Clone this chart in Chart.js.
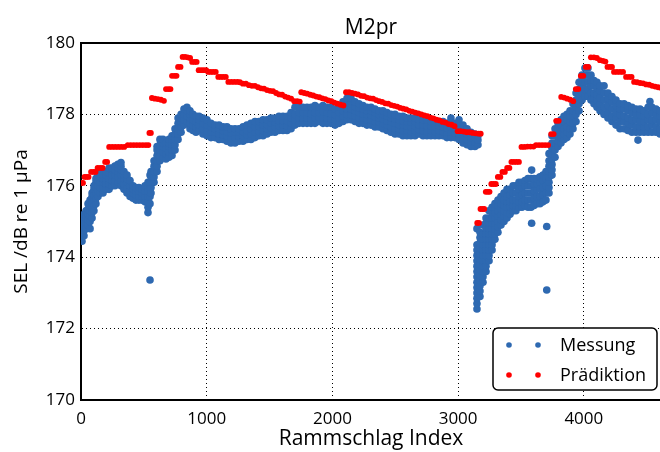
<!DOCTYPE html>
<html lang="de">
<head>
    <meta charset="UTF-8">
    <title>M2pr</title>
    <script src="https://cdn.jsdelivr.net/npm/chart.js"></script>
    <style>
        html, body {
            margin: 0;
            padding: 0;
            background: #fff;
            overflow: hidden;
        }
        .wrap {
            width: 680px;
            height: 452px;
        }
    </style>
</head>
<body>
    <div class="wrap">
        <canvas id="chart" width="680" height="452"></canvas>
    </div>

    <script>
        // Messung: [Rammschlag Index, [SEL-Werte in dB]]
        const messung = [
            [8, [174.45, 174.6, 174.75, 174.9]],
            [24, [174.6, 174.75, 174.9, 175.05, 175.2]],
            [40, [174.8, 174.95, 175.1, 175.3]],
            [56, [174.9, 175.05, 175.2, 175.35, 175.5]],
            [72, [174.8, 175.0, 175.15, 175.3, 175.45, 175.6]],
            [88, [175.1, 175.25, 175.4, 175.55, 175.7, 175.8]],
            [103, [175.3, 175.45, 175.6, 175.75, 175.9, 176.0]],
            [119, [175.5, 175.65, 175.8, 175.95, 176.1, 176.2]],
            [135, [175.7, 175.85, 176.0, 176.15, 176.3]],
            [151, [175.8, 175.95, 176.1, 176.25, 176.4]],
            [175, [175.8, 175.95, 176.1, 176.2, 176.3]],
            [199, [175.9, 176.05, 176.2, 176.3, 176.4]],
            [223, [175.9, 176.05, 176.2, 176.35, 176.5]],
            [247, [176.0, 176.15, 176.3, 176.45, 176.5]],
            [270, [176.0, 176.15, 176.3, 176.45, 176.55]],
            [294, [176.1, 176.25, 176.4, 176.5, 176.6]],
            [318, [176.0, 176.15, 176.3, 176.45, 176.55, 176.65]],
            [342, [175.9, 176.05, 176.2, 176.3, 176.4]],
            [366, [175.8, 175.95, 176.1, 176.2, 176.3]],
            [390, [175.7, 175.85, 176.0, 176.15]],
            [414, [175.65, 175.8, 175.9, 176.0]],
            [437, [175.6, 175.75, 175.85, 175.95]],
            [461, [175.6, 175.7, 175.85, 175.95]],
            [485, [175.6, 175.7, 175.8, 175.9]],
            [509, [175.55, 175.7, 175.85, 176.0]],
            [533, [175.25, 175.4, 175.55, 175.7, 175.85, 176.0, 176.1]],
            [549, [173.36, 175.5, 175.7, 175.9, 176.1, 176.3]],
            [557, [175.8, 175.95, 176.1, 176.25, 176.4]],
            [581, [176.1, 176.25, 176.4, 176.55, 176.7]],
            [605, [176.4, 176.55, 176.7, 176.85, 177.0, 177.1]],
            [628, [176.7, 176.85, 177.0, 177.15, 177.3]],
            [652, [176.8, 176.95, 177.1, 177.2, 177.3]],
            [676, [176.75, 176.9, 177.05, 177.2]],
            [700, [176.8, 176.95, 177.1, 177.2, 177.3]],
            [724, [176.85, 177.0, 177.15, 177.3, 177.4]],
            [748, [177.0, 177.15, 177.3, 177.45, 177.6]],
            [772, [177.3, 177.45, 177.6, 177.75, 177.9]],
            [796, [177.5, 177.65, 177.8, 177.9, 178.0]],
            [819, [177.7, 177.85, 178.0, 178.15]],
            [843, [177.8, 177.95, 178.1, 178.2]],
            [867, [177.6, 177.75, 177.9, 178.0, 178.1]],
            [891, [177.55, 177.7, 177.85, 178.0]],
            [915, [177.5, 177.65, 177.8, 177.95]],
            [939, [177.55, 177.7, 177.85, 177.95]],
            [970, [177.45, 177.6, 177.75, 177.9]],
            [1002, [177.4, 177.55, 177.7, 177.85]],
            [1034, [177.35, 177.5, 177.65, 177.75]],
            [1066, [177.35, 177.5, 177.6, 177.7]],
            [1098, [177.3, 177.45, 177.6, 177.7]],
            [1130, [177.3, 177.42, 177.55, 177.65]],
            [1161, [177.25, 177.4, 177.52, 177.65]],
            [1193, [177.2, 177.35, 177.48, 177.6]],
            [1225, [177.2, 177.35, 177.5, 177.6]],
            [1257, [177.25, 177.38, 177.5, 177.6]],
            [1289, [177.25, 177.4, 177.52, 177.65]],
            [1320, [177.3, 177.42, 177.55, 177.7]],
            [1352, [177.3, 177.45, 177.6, 177.75]],
            [1384, [177.35, 177.5, 177.65, 177.8]],
            [1416, [177.4, 177.52, 177.66, 177.8]],
            [1448, [177.4, 177.55, 177.7, 177.85]],
            [1480, [177.45, 177.6, 177.72, 177.85]],
            [1511, [177.5, 177.62, 177.76, 177.9]],
            [1543, [177.5, 177.65, 177.78, 177.9]],
            [1575, [177.55, 177.68, 177.82, 177.95]],
            [1607, [177.55, 177.7, 177.82, 177.95]],
            [1639, [177.55, 177.68, 177.82, 177.95]],
            [1671, [177.6, 177.75, 177.9, 178.05]],
            [1702, [177.7, 177.85, 178.0, 178.2]],
            [1734, [177.75, 177.9, 178.05, 178.25]],
            [1766, [177.75, 177.9, 178.05, 178.2]],
            [1798, [177.75, 177.9, 178.05, 178.2]],
            [1830, [177.75, 177.88, 178.02, 178.2]],
            [1861, [177.75, 177.9, 178.05, 178.25]],
            [1893, [177.8, 177.92, 178.05, 178.2]],
            [1925, [177.75, 177.9, 178.08, 178.25]],
            [1957, [177.75, 177.9, 178.05, 178.2]],
            [1989, [177.75, 177.88, 178.02, 178.2]],
            [2021, [177.7, 177.85, 178.0, 178.15]],
            [2052, [177.75, 177.9, 178.05, 178.2]],
            [2084, [177.8, 177.95, 178.1, 178.25, 178.35]],
            [2116, [177.85, 178.0, 178.15, 178.3, 178.45]],
            [2148, [177.85, 178.0, 178.15, 178.3, 178.45]],
            [2180, [177.8, 177.95, 178.1, 178.22, 178.35]],
            [2212, [177.75, 177.9, 178.05, 178.18, 178.3]],
            [2243, [177.75, 177.9, 178.02, 178.15, 178.25]],
            [2275, [177.7, 177.85, 178.0, 178.1, 178.2]],
            [2307, [177.7, 177.85, 177.98, 178.1, 178.2]],
            [2339, [177.65, 177.8, 177.92, 178.05, 178.15]],
            [2371, [177.65, 177.78, 177.9, 178.0, 178.1]],
            [2402, [177.6, 177.75, 177.88, 178.0, 178.1]],
            [2434, [177.55, 177.7, 177.82, 177.95, 178.05]],
            [2466, [177.5, 177.65, 177.8, 177.9, 178.0]],
            [2498, [177.45, 177.6, 177.75, 177.88, 178.0]],
            [2530, [177.45, 177.6, 177.72, 177.85, 177.95]],
            [2561, [177.4, 177.55, 177.7, 177.82, 177.95]],
            [2593, [177.4, 177.55, 177.68, 177.8, 177.9]],
            [2625, [177.4, 177.52, 177.65, 177.78, 177.9]],
            [2657, [177.4, 177.55, 177.68, 177.8, 177.9]],
            [2689, [177.45, 177.58, 177.7, 177.85]],
            [2721, [177.4, 177.55, 177.7, 177.85]],
            [2752, [177.4, 177.52, 177.68, 177.85]],
            [2784, [177.4, 177.55, 177.68, 177.8]],
            [2816, [177.4, 177.52, 177.66, 177.8]],
            [2848, [177.4, 177.55, 177.68, 177.8]],
            [2880, [177.4, 177.52, 177.65, 177.8]],
            [2911, [177.35, 177.5, 177.62, 177.75]],
            [2943, [177.35, 177.5, 177.65, 177.8, 177.9]],
            [2975, [177.35, 177.48, 177.62, 177.75]],
            [3007, [177.3, 177.45, 177.6, 177.72, 177.85]],
            [3039, [177.2, 177.35, 177.5, 177.6, 177.7]],
            [3071, [177.15, 177.3, 177.45, 177.6]],
            [3102, [177.1, 177.22, 177.35, 177.5]],
            [3134, [177.1, 177.22, 177.35, 177.45]],
            [3158, [177.15, 177.28, 177.4]],
            [3150, [172.55, 172.7, 172.85, 173.0, 173.15, 173.3, 173.45, 173.6, 173.75, 173.9, 174.05, 174.2, 174.35, 174.8]],
            [3174, [172.9, 173.05, 173.2, 173.35, 173.5, 173.65, 173.8, 173.95, 174.1, 174.25, 174.4, 174.55, 174.7]],
            [3198, [173.3, 173.45, 173.6, 173.75, 173.9, 174.05, 174.2, 174.35, 174.5, 174.65, 174.9]],
            [3222, [173.6, 173.75, 173.9, 174.05, 174.2, 174.35, 174.5, 174.65, 174.8, 174.95, 175.1]],
            [3246, [173.9, 174.05, 174.2, 174.35, 174.5, 174.65, 174.8, 174.95, 175.1, 175.3]],
            [3270, [174.2, 174.35, 174.5, 174.65, 174.8, 174.95, 175.1, 175.25, 175.4]],
            [3293, [174.5, 174.65, 174.8, 174.95, 175.1, 175.25, 175.4, 175.5]],
            [3317, [174.7, 174.85, 175.0, 175.15, 175.3, 175.45, 175.6]],
            [3341, [174.9, 175.05, 175.2, 175.35, 175.5, 175.7]],
            [3365, [175.0, 175.15, 175.3, 175.45, 175.6, 175.8]],
            [3389, [175.1, 175.25, 175.4, 175.55, 175.7, 175.9]],
            [3413, [175.2, 175.4, 175.55, 175.75, 175.9]],
            [3437, [175.3, 175.45, 175.6, 175.8, 176.0]],
            [3460, [175.3, 175.45, 175.6, 175.8, 176.0]],
            [3484, [175.4, 175.55, 175.7, 175.9, 176.1]],
            [3508, [175.4, 175.55, 175.75, 175.95, 176.1]],
            [3532, [175.45, 175.6, 175.8, 176.0, 176.15]],
            [3556, [175.4, 175.6, 175.8, 176.0, 176.2]],
            [3580, [175.4, 175.6, 175.8, 176.0, 176.2]],
            [3585, [174.95, 176.44]],
            [3604, [175.45, 175.65, 175.85, 176.05, 176.2]],
            [3627, [175.5, 175.7, 175.9, 176.05, 176.2]],
            [3651, [175.5, 175.7, 175.9, 176.1, 176.25]],
            [3675, [175.55, 175.75, 175.95, 176.15, 176.3]],
            [3699, [175.6, 175.8, 176.0, 176.2, 176.4]],
            [3705, [173.08, 174.86]],
            [3723, [175.8, 175.95, 176.1, 176.25, 176.4, 176.55, 176.7, 176.9]],
            [3747, [176.3, 176.45, 176.6, 176.75, 176.9, 177.05, 177.2, 177.4]],
            [3771, [176.8, 177.0, 177.2, 177.4, 177.6]],
            [3795, [177.1, 177.25, 177.45, 177.6, 177.75]],
            [3818, [177.2, 177.35, 177.5, 177.7, 177.85]],
            [3842, [177.3, 177.45, 177.6, 177.8, 177.95]],
            [3866, [177.35, 177.5, 177.65, 177.85, 178.0]],
            [3890, [177.45, 177.6, 177.8, 177.95, 178.1]],
            [3914, [177.6, 177.75, 177.95, 178.1, 178.3]],
            [3938, [177.8, 178.0, 178.2, 178.4, 178.6]],
            [3962, [178.1, 178.3, 178.5, 178.7, 178.9]],
            [3986, [178.4, 178.6, 178.8, 179.0, 179.1]],
            [4009, [178.5, 178.7, 178.9, 179.1, 179.3]],
            [4033, [178.5, 178.7, 178.9, 179.1, 179.3]],
            [4057, [178.4, 178.6, 178.8, 178.95, 179.1]],
            [4081, [178.3, 178.45, 178.6, 178.8, 178.95]],
            [4105, [178.2, 178.4, 178.55, 178.75, 178.9]],
            [4129, [178.1, 178.3, 178.45, 178.65, 178.8]],
            [4161, [178.0, 178.2, 178.4, 178.6, 178.8]],
            [4192, [177.9, 178.05, 178.25, 178.45, 178.6]],
            [4224, [177.8, 177.95, 178.15, 178.35, 178.5]],
            [4256, [177.7, 177.9, 178.05, 178.25, 178.4]],
            [4288, [177.6, 177.8, 178.0, 178.15, 178.3]],
            [4320, [177.6, 177.8, 177.95, 178.15, 178.3]],
            [4351, [177.55, 177.75, 177.9, 178.1, 178.25]],
            [4383, [177.5, 177.7, 177.85, 178.05, 178.2]],
            [4415, [177.5, 177.65, 177.85, 178.0, 178.15]],
            [4431, [177.28]],
            [4447, [177.5, 177.65, 177.8, 178.0, 178.15]],
            [4479, [177.5, 177.65, 177.8, 177.95, 178.1]],
            [4511, [177.5, 177.65, 177.85, 178.0, 178.2]],
            [4526, [178.36]],
            [4542, [177.5, 177.7, 177.85, 178.05, 178.2]],
            [4574, [177.5, 177.65, 177.85, 178.0, 178.15]],
            [4606, [177.45, 177.6, 177.8, 177.95, 178.1]]
        ];

        // Prädiktion: [Rammschlag Index, SEL in dB]
        const praediktion = [
            [0, 176.08], [16, 176.08],
            [28, 176.25], [44, 176.25], [60, 176.25],
            [80, 176.39], [100, 176.39], [116, 176.39],
            [132, 176.5], [152, 176.5], [172, 176.5],
            [192, 176.67], [208, 176.67],
            [224, 177.09], [248, 177.09], [272, 177.09], [296, 177.09], [320, 177.09], [344, 177.09],
            [372, 177.14], [396, 177.14], [420, 177.14], [444, 177.14], [468, 177.14], [492, 177.14], [516, 177.14], [536, 177.14],
            [544, 177.48], [556, 177.48],
            [564, 178.46], [588, 178.44], [612, 178.43], [636, 178.41], [660, 178.38],
            [676, 178.71], [696, 178.71], [712, 178.71],
            [724, 179.08], [744, 179.08], [760, 179.08],
            [772, 179.33], [792, 179.33],
            [808, 179.61], [828, 179.61], [848, 179.6], [868, 179.58],
            [884, 179.47], [904, 179.47], [920, 179.47],
            [936, 179.24], [956, 179.24], [976, 179.24], [996, 179.24],
            [1012, 179.19], [1032, 179.19], [1052, 179.19], [1072, 179.19],
            [1092, 179.05], [1112, 179.05], [1132, 179.05], [1152, 179.05],
            [1172, 178.91], [1196, 178.91], [1220, 178.91], [1244, 178.91], [1264, 178.9],
            [1288, 178.86], [1312, 178.86], [1336, 178.82], [1360, 178.8], [1384, 178.8], [1408, 178.76],
            [1432, 178.73], [1456, 178.72], [1480, 178.68], [1504, 178.66], [1528, 178.65], [1552, 178.6],
            [1576, 178.56], [1600, 178.55], [1624, 178.5], [1648, 178.47], [1672, 178.44],
            [1696, 178.37], [1720, 178.37], [1740, 178.36],
            [1752, 178.62], [1776, 178.6], [1800, 178.58], [1824, 178.55], [1848, 178.53], [1872, 178.5],
            [1896, 178.48], [1920, 178.45], [1944, 178.43], [1968, 178.39], [1992, 178.37], [2016, 178.33],
            [2040, 178.3], [2064, 178.27], [2088, 178.25],
            [2108, 178.62], [2132, 178.62], [2156, 178.6], [2180, 178.58], [2204, 178.56],
            [2228, 178.52], [2252, 178.51], [2276, 178.47], [2300, 178.45], [2324, 178.44], [2348, 178.4],
            [2372, 178.37], [2396, 178.35], [2420, 178.31], [2444, 178.3], [2468, 178.26], [2492, 178.24],
            [2516, 178.22], [2540, 178.18], [2564, 178.16], [2588, 178.14], [2612, 178.1], [2636, 178.08],
            [2660, 178.05], [2684, 178.03], [2708, 178.0], [2732, 177.97], [2756, 177.95], [2780, 177.91],
            [2804, 177.89], [2828, 177.85], [2852, 177.83], [2876, 177.79], [2900, 177.77], [2924, 177.73],
            [2948, 177.71], [2972, 177.67],
            [2996, 177.53], [3020, 177.53], [3044, 177.52], [3068, 177.5], [3092, 177.5], [3116, 177.48],
            [3140, 177.47], [3164, 177.46], [3180, 177.46],
            [3152, 174.96], [3166, 174.96],
            [3178, 175.35], [3194, 175.35], [3208, 175.35],
            [3220, 175.83], [3236, 175.83], [3250, 175.83],
            [3264, 176.05], [3282, 176.05], [3300, 176.05],
            [3316, 176.25], [3336, 176.25],
            [3352, 176.39], [3372, 176.39],
            [3390, 176.5], [3408, 176.5],
            [3424, 176.67], [3444, 176.67], [3464, 176.67], [3484, 176.67],
            [3504, 177.09], [3528, 177.09], [3552, 177.1], [3576, 177.1], [3600, 177.1],
            [3620, 177.14], [3644, 177.14], [3668, 177.14], [3692, 177.14], [3716, 177.14],
            [3740, 177.45], [3760, 177.45],
            [3780, 177.82], [3800, 177.82],
            [3820, 178.49], [3844, 178.47], [3868, 178.44], [3892, 178.41], [3916, 178.37],
            [3936, 178.71], [3956, 178.71],
            [3976, 179.08], [3996, 179.08],
            [4016, 179.33], [4036, 179.33],
            [4056, 179.6], [4080, 179.6], [4104, 179.58], [4128, 179.52], [4152, 179.5], [4172, 179.48],
            [4188, 179.33], [4208, 179.33], [4224, 179.33],
            [4240, 179.19], [4264, 179.19], [4288, 179.19], [4312, 179.19],
            [4336, 179.05], [4360, 179.05], [4380, 179.05],
            [4400, 178.91], [4424, 178.9], [4448, 178.88], [4472, 178.87], [4496, 178.84], [4520, 178.83],
            [4544, 178.8], [4568, 178.78], [4592, 178.76], [4616, 178.74]
        ];

        const xTicks = [0, 1000, 2000, 3000, 4000];
        const yTicks = [170, 172, 174, 176, 178, 180];

        const FONT = "'Open Sans', 'DejaVu Sans', sans-serif";
        const BLUE = '#2e69b1';
        const RED = '#ff0000';

        const messungPunkte = [];
        messung.forEach(([x, ys]) => ys.forEach(y => messungPunkte.push({ x: x, y: y })));
        const praedPunkte = praediktion.map(([x, y]) => ({ x: x, y: y }));

        // legend drawn inside the plot, lower right, two markers per entry like the original
        const legendBox = {
            id: 'legendBox',
            afterDraw(chart) {
                const ctx = chart.ctx;
                const x = 493, y = 328, w = 164, h = 62, r = 5;
                ctx.save();
                ctx.beginPath();
                ctx.roundRect(x, y, w, h, r);
                ctx.fillStyle = '#fff';
                ctx.fill();
                ctx.lineWidth = 1.5;
                ctx.strokeStyle = '#000';
                ctx.stroke();
                const rows = [
                    { ds: chart.data.datasets[0], cy: 345 },
                    { ds: chart.data.datasets[1], cy: 375 }
                ];
                ctx.font = '18px ' + FONT;
                ctx.textBaseline = 'middle';
                rows.forEach(row => {
                    ctx.fillStyle = row.ds.backgroundColor;
                    [509, 538].forEach(cx => {
                        ctx.beginPath();
                        ctx.arc(cx, row.cy, 2.8, 0, Math.PI * 2);
                        ctx.fill();
                    });
                    ctx.fillStyle = '#000';
                    ctx.fillText(row.ds.label, 560, row.cy + 1);
                });
                ctx.restore();
            }
        };

        new Chart(document.getElementById('chart'), {
            type: 'scatter',
            data: {
                datasets: [
                    {
                        label: 'Messung',
                        data: messungPunkte,
                        backgroundColor: BLUE,
                        borderWidth: 0,
                        pointRadius: 3.8,
                        order: 2
                    },
                    {
                        label: 'Prädiktion',
                        data: praedPunkte,
                        backgroundColor: RED,
                        borderWidth: 0,
                        pointRadius: 2.9,
                        order: 1
                    }
                ]
            },
            options: {
                responsive: false,
                animation: false,
                layout: { padding: { left: 0, right: 19, top: 0, bottom: 0 } },
                plugins: {
                    legend: { display: false },
                    tooltip: { enabled: false },
                    title: { display: false }
                },
                scales: {
                    x: {
                        type: 'linear',
                        position: 'bottom',
                        min: 0,
                        max: 4614,
                        afterBuildTicks: s => { s.ticks = xTicks.map(v => ({ value: v })); },
                        afterFit: s => { s.height = 52; },
                        ticks: {
                            color: '#000',
                            font: { family: FONT, size: 17 },
                            padding: 9,
                            maxRotation: 0,
                            callback: v => String(v)
                        },
                        grid: { color: '#000', lineWidth: 1, drawTicks: false },
                        border: { display: true, color: '#000', width: 2, dash: [1, 3] },
                        title: {
                            display: true,
                            text: 'Rammschlag Index',
                            color: '#000',
                            font: { family: FONT, size: 21 },
                            padding: { top: 0, bottom: 0 }
                        }
                    },
                    x2: {
                        type: 'linear',
                        position: 'top',
                        min: 0,
                        max: 4614,
                        afterFit: s => { s.height = 43; },
                        ticks: { display: false },
                        grid: { display: false },
                        border: { display: true, color: '#000', width: 2 },
                        title: {
                            display: true,
                            text: 'M2pr',
                            color: '#000',
                            font: { family: FONT, size: 21 },
                            padding: { top: 15, bottom: 0 }
                        }
                    },
                    y: {
                        type: 'linear',
                        min: 170,
                        max: 180,
                        afterBuildTicks: s => { s.ticks = yTicks.map(v => ({ value: v })); },
                        afterFit: s => { s.width = 81; },
                        ticks: {
                            color: '#000',
                            font: { family: FONT, size: 17 },
                            padding: 6,
                            callback: v => String(v)
                        },
                        grid: { color: '#000', lineWidth: 1, drawTicks: false },
                        border: { display: true, color: '#000', width: 2, dash: [1, 3] },
                        title: {
                            display: true,
                            text: 'SEL /dB re 1 µPa',
                            color: '#000',
                            font: { family: FONT, size: 19 },
                            padding: { top: 10, bottom: 0 }
                        }
                    }
                }
            },
            plugins: [legendBox]
        });
    </script>
</body>
</html>
